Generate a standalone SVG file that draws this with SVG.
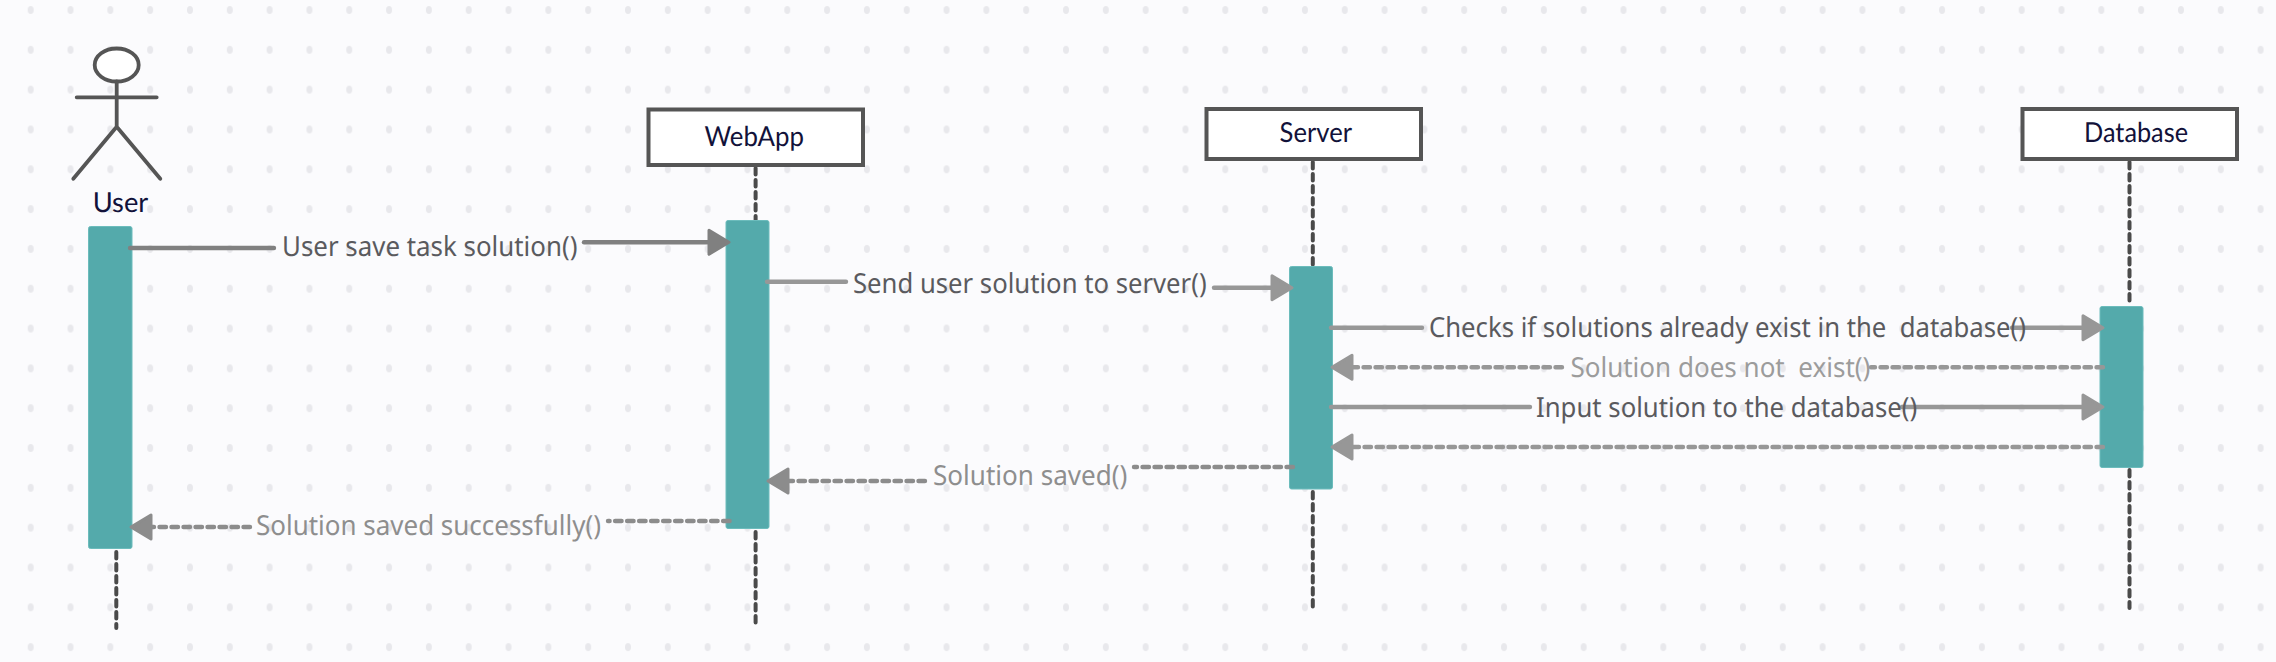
<svg xmlns="http://www.w3.org/2000/svg" width="2276" height="662" viewBox="0 0 2276 662">
<style>
.box{fill:#fff;stroke:#555;stroke-width:4}
.name{font-family:"Lato","Noto Sans",sans-serif;font-size:27.5px;fill:#12123a;text-rendering:geometricPrecision}
.life{fill:none;stroke:#4a4a4a;stroke-width:4;stroke-dasharray:6.5 5.5;stroke-linecap:round}
.bar{fill:#54aaab;stroke:#6cbcbc;stroke-width:1}
.actor{fill:none;stroke:#555;stroke-width:3.8;stroke-linecap:round;stroke-linejoin:round}
.c{fill:none;stroke-width:4.4;stroke-linecap:round}
.d{stroke-dasharray:6.5 5.5}
.c1{stroke:#808080}.c2{stroke:#979797}.c3{stroke:#8c8c8c}
.t{font-family:"Noto Sans",sans-serif;font-size:27.5px;text-rendering:geometricPrecision}
.t1{fill:#5a5a5e}.t2{fill:#8e8e8e}.t3{fill:#9c9c9c}
</style>
<defs>
<pattern id="dots" patternUnits="userSpaceOnUse" x="10.8" y="-9.9" width="39.82" height="39.82">
<ellipse cx="19.91" cy="19.91" rx="3" ry="4" fill="#e8e8ec"/>
</pattern>
<marker id="a1" markerUnits="userSpaceOnUse" markerWidth="30" markerHeight="34" viewBox="-3 -17 30 34" refX="0" refY="0" orient="auto"><path d="M0 -12 L20 0 L0 12 Z" fill="#808080" stroke="#808080" stroke-width="3" stroke-linejoin="round"/></marker>
<marker id="a2" markerUnits="userSpaceOnUse" markerWidth="30" markerHeight="34" viewBox="-3 -17 30 34" refX="0" refY="0" orient="auto"><path d="M0 -12 L20 0 L0 12 Z" fill="#979797" stroke="#979797" stroke-width="3" stroke-linejoin="round"/></marker>
<marker id="a3" markerUnits="userSpaceOnUse" markerWidth="30" markerHeight="34" viewBox="-3 -17 30 34" refX="0" refY="0" orient="auto"><path d="M0 -12 L20 0 L0 12 Z" fill="#8c8c8c" stroke="#8c8c8c" stroke-width="3" stroke-linejoin="round"/></marker>
</defs>
<rect width="2276" height="662" fill="#fbfbfd"/>
<rect width="2276" height="662" fill="url(#dots)"/>
<g id="node-user">
<path class="life" d="M116.3 552V628"/>
<rect class="bar" x="88.5" y="226.5" width="43.5" height="322" rx="2"/>
<ellipse cx="116.7" cy="65" rx="22" ry="16.5" fill="#fff" stroke="#555" stroke-width="3.8"/>
<path class="actor" d="M116.7 81.5V126.7M76.7 97.3H156.7M116.7 126.7L73.3 178.7M116.7 126.7L160.3 178.7"/>
<text class="name" x="92.7" y="212" textLength="55.6" lengthAdjust="spacingAndGlyphs">User</text>
</g>
<g id="node-webapp">
<path class="life" d="M755.6 168V220M755.6 532V626"/>
<rect class="box" x="648.5" y="109.5" width="214.5" height="55.5"/>
<rect class="bar" x="726" y="220.5" width="43" height="308" rx="2"/>
<text class="name" x="704.6" y="146" textLength="99.4" lengthAdjust="spacingAndGlyphs">WebApp</text>
</g>
<g id="node-server">
<path class="life" d="M1312.8 162V266M1312.8 492V608"/>
<rect class="box" x="1206.5" y="109" width="214.5" height="50"/>
<rect class="bar" x="1289.5" y="266.5" width="43" height="222.5" rx="2"/>
<text class="name" x="1279.6" y="142" textLength="72.4" lengthAdjust="spacingAndGlyphs">Server</text>
</g>
<g id="node-database">
<path class="life" d="M2129.5 162V306M2129.5 470V608"/>
<rect class="box" x="2022.5" y="109" width="214.5" height="50"/>
<rect class="bar" x="2100" y="306.5" width="43" height="161" rx="2"/>
<text class="name" x="2084" y="142" textLength="104" lengthAdjust="spacingAndGlyphs">Database</text>
</g>
<g id="connectors">
<path class="c c1" d="M130 248H274"/>
<path class="c c1" d="M584 242.3H709" marker-end="url(#a1)"/>
<text class="t t1" x="282" y="256" textLength="295.5" lengthAdjust="spacingAndGlyphs">User save task solution()</text>

<path class="c c2" d="M767 281.7H846"/>
<path class="c c2" d="M1214 287.7H1272" marker-end="url(#a2)"/>
<text class="t t1" x="853" y="293" textLength="353.6" lengthAdjust="spacingAndGlyphs">Send user solution to server()</text>

<path class="c c2" d="M1331 327.7H1422"/>
<path class="c c2" d="M2012 327.7H2083" marker-end="url(#a2)"/>
<text class="t t1" x="1429" y="337.3" textLength="597" lengthAdjust="spacingAndGlyphs" xml:space="preserve">Checks if solutions already exist in the  database()</text>

<path class="c c2 d" d="M1562 367.3H1352" marker-end="url(#a2)"/>
<path class="c c2 d" d="M2103 367.3H1871"/>
<text class="t t3" x="1570.4" y="377" textLength="300" lengthAdjust="spacingAndGlyphs" xml:space="preserve">Solution does not  exist()</text>

<path class="c c2" d="M1331 407H1530"/>
<path class="c c2" d="M1902 407H2083" marker-end="url(#a2)"/>
<text class="t t1" x="1536" y="416.7" textLength="381.3" lengthAdjust="spacingAndGlyphs">Input solution to the database()</text>

<path class="c c2 d" d="M2103 447H1352" marker-end="url(#a2)"/>

<path class="c c3 d" d="M925 481H788" marker-end="url(#a3)"/>
<path class="c c3 d" d="M1293 467H1134"/>
<text class="t t2" x="933" y="485" textLength="194.4" lengthAdjust="spacingAndGlyphs">Solution saved()</text>

<path class="c c3 d" d="M250 527H151" marker-end="url(#a3)"/>
<path class="c c3 d" d="M729.6 521H608"/>
<text class="t t2" x="256" y="535" textLength="345" lengthAdjust="spacingAndGlyphs">Solution saved successfully()</text>
</g>
</svg>
